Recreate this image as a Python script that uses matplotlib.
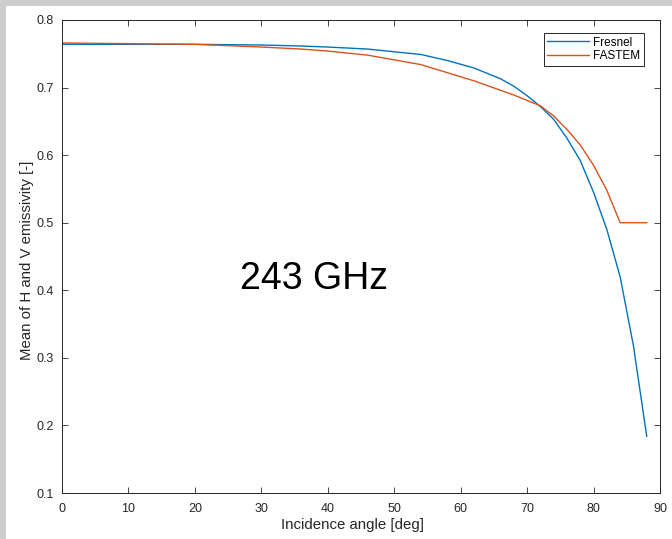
import numpy as np
import matplotlib
matplotlib.use("Agg")
import matplotlib.pyplot as plt
from matplotlib.patches import Rectangle

plt.rcParams['font.family'] = ['Liberation Sans', 'DejaVu Sans']

# incidence angles [deg] and mean H/V emissivity at 243 GHz
angle = [0, 10, 20, 30, 36, 40, 46, 50, 54, 58, 62, 66, 68, 70, 72,
         74, 76, 78, 80, 82, 84, 86, 88]
fresnel = [0.764, 0.764, 0.764, 0.763, 0.7615, 0.760, 0.757, 0.753, 0.749,
           0.740, 0.729, 0.713, 0.702, 0.688, 0.672, 0.653, 0.625, 0.592,
           0.545, 0.490, 0.420, 0.318, 0.184]
fastem = [0.766, 0.765, 0.764, 0.760, 0.757, 0.754, 0.748, 0.741, 0.734,
          0.722, 0.710, 0.696, 0.689, 0.681, 0.673, 0.658, 0.638, 0.615,
          0.585, 0.548, 0.500, 0.500, 0.500]

xticks = np.arange(0, 91, 10)
yticks = [0.1, 0.2, 0.3, 0.4, 0.5, 0.6, 0.7, 0.8]

W, H = 672, 539
fig = plt.figure(figsize=(W / 100, H / 100), dpi=100)
fig.patch.set_facecolor('white')

# grey window frame on left and top
fig.patches.append(Rectangle((0, 0), 6 / W, 1, transform=fig.transFigure,
                             facecolor='#cdcdcd', edgecolor='none', zorder=0))
fig.patches.append(Rectangle((0, 1 - 6 / H), 1, 6 / H, transform=fig.transFigure,
                             facecolor='#cdcdcd', edgecolor='none', zorder=0))

ax = fig.add_axes([62 / W, 1 - 493 / H, (660 - 62) / W, (493 - 20) / H])
ax.plot(angle, fresnel, color='#0072BD', lw=1.0, label='Fresnel')
ax.plot(angle, fastem, color='#D95319', lw=1.0, label='FASTEM')

ax.set_xlim(0, 90)
ax.set_ylim(0.1, 0.8)
ax.set_xticks(xticks)
ax.set_yticks(yticks)
ax.set_yticklabels([f'{v:g}' for v in yticks])

ax.tick_params(direction='in', length=4, width=0.6, top=True, right=True,
               labelsize=9, colors='#262626')
ax.tick_params(axis='x', pad=7)
ax.tick_params(axis='y', pad=6)
for s in ax.spines.values():
    s.set_color('#262626')
    s.set_linewidth(0.7)

ax.set_xlabel('Incidence angle [deg]', fontsize=10.8, color='#262626', labelpad=2)
ax.set_ylabel('Mean of H and V emissivity [-]', fontsize=10.8, color='#262626',
              labelpad=2)
ax.xaxis.label.set_x(0.485)
ax.yaxis.label.set_y(0.4915)

ax.text(26.8, 0.416, '243 GHz', fontsize=27, color='black', va='center', ha='left')

leg = ax.legend(loc='upper right', bbox_to_anchor=(0.9732, 0.9725),
                borderaxespad=0, fontsize=8.5, handlelength=3.5,
                fancybox=False, framealpha=1, edgecolor='#262626',
                borderpad=0.3, labelspacing=0.15, handletextpad=0.4)
leg.get_frame().set_linewidth(0.7)

fig.savefig('out.png', dpi=100)
